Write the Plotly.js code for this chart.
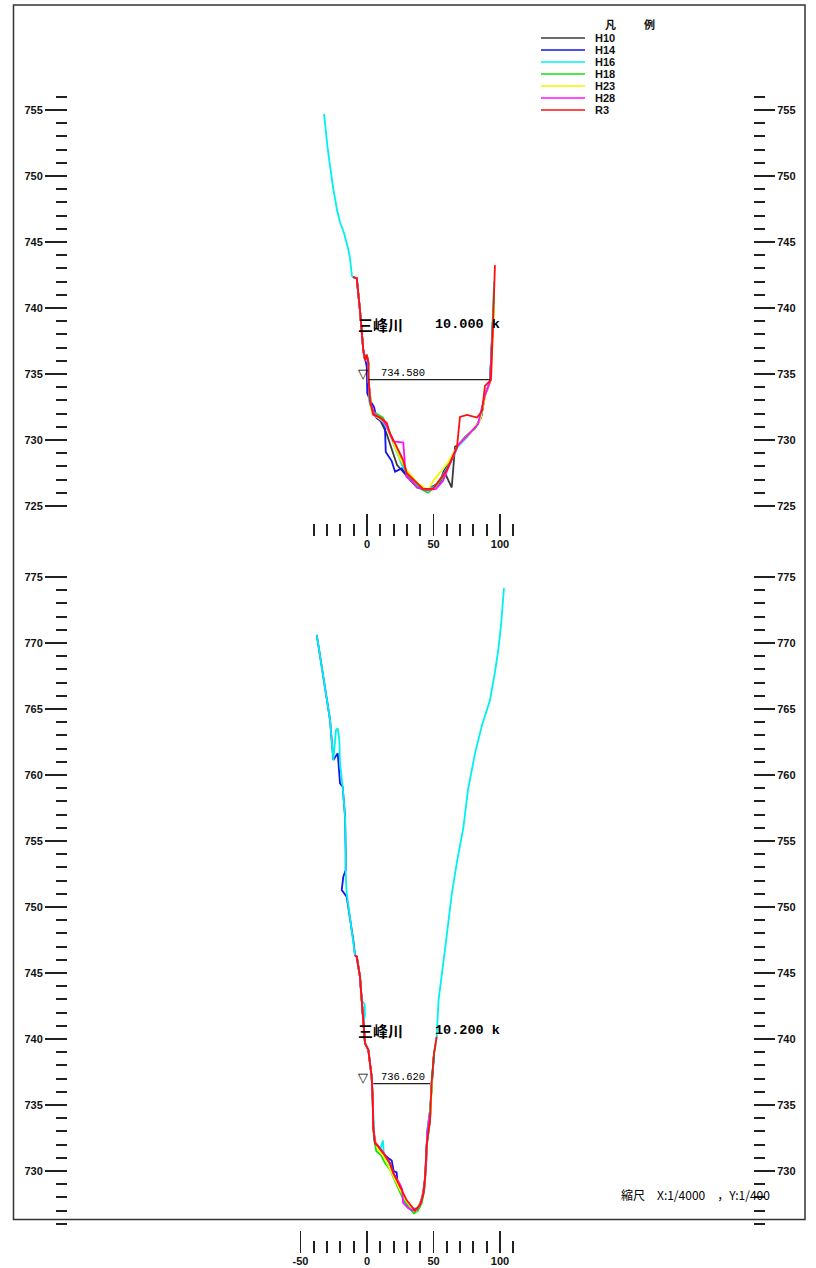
<!DOCTYPE html>
<html><head><meta charset="utf-8">
<script src="https://cdn.plot.ly/plotly-3.0.1.min.js"></script>
<style>html,body{margin:0;padding:0;background:#fff}</style>
</head><body><div id="chart" style="width:816px;height:1268px"></div>
<script>
// ---------------- data ----------------
const seriesNames  = ['H10','H14','H16','H18','H23','H28','R3'];
const seriesColors = ['#3a3a3a','#1414f0','#00f0f0','#10e010','#f5f500','#ff10ff','#ff1010'];

// Section 1 : 10.000 k
const sec1Title = '10.000 k';
const sec1WL = 734.580;
const sec1WLx = [1.0, 92.5];
const sec1CyanUpX = [-32.3,-31.2,-29.7,-28.2,-26.7,-25.2,-23.8,-23.1,-22.6,-20.3,-17.3,-14.3,-12.8,-12.0,-11.3];
const sec1CyanUpY = [754.70,753.56,752.20,751.06,749.92,748.94,748.18,747.80,747.42,746.52,745.68,744.55,743.79,743.03,742.42];
const sec1BankX = [-10.5,-7.7,-5.3,-2.8,-1.5,-0.2,1.0,1.0,1.7];
const sec1BankY = [742.35,742.25,739.85,736.8,736.05,736.45,735.9,734.8,733.9];
const sec1H10X = [4.0,9.8,14.3,22.6,32.3,37.6,45.1,49.6,54.9,58.6,63.7,66.2,68.4,73.7,81.2,85.7,88.7,92.5,94.7];
const sec1H10Y = [732.0,731.5,730.6,728.1,727.0,726.4,726.2,726.4,726.8,727.5,726.4,729.5,729.6,730.2,730.9,731.7,733.4,734.4,739.1];
const sec1H14X = [-10.5,-7.7,-5.3,-2.8,-0.2,0.2,2.3,5.3,7.3,11.0,13.5,14.1,18.6,21.1,26.1,32.3,37.6,45.1,49.6,54.9,57.5,59.9,62.4,68.4,73.7,81.2,85.7,88.7,92.5,94.7];
const sec1H14Y = [742.35,742.25,739.85,736.8,735.56,733.54,733.0,732.5,731.65,731.4,731.0,729.1,728.4,727.6,727.85,727.0,726.5,726.2,726.5,726.8,727.6,728.0,728.3,729.6,730.2,730.9,731.7,733.4,734.4,739.1];
const sec1H16X = [1.5,4.5,11.3,16.5,21.8,26.3,32.3,37.6,45.9,52.6,57.9,62.4,68.4,75.9,83.5,88.7,92.5,94.7,95.5];
const sec1H16Y = [733.0,731.97,731.5,730.6,729.3,728.1,727.1,726.6,726.2,726.6,727.5,728.2,729.5,730.3,731.2,733.4,734.4,739.0,742.0];
const sec1H18X = [2.3,5.3,12.0,15.8,21.1,26.3,32.3,38.3,45.9,51.9,56.4,62.4,68.4,73.7,81.2,85.7,88.7,92.5,94.7,95.5];
const sec1H18Y = [732.7,732.1,731.7,730.9,729.6,728.3,727.1,726.4,726.0,726.5,727.1,728.3,729.6,730.2,730.9,731.7,733.4,734.4,739.1,741.4];
const sec1H23X = [3.8,13.5,18.8,24.8,30.8,38.3,45.9,50.5,55.5,60.9,68.4,77.4,85.0,89.5,93.2,95.5];
const sec1H23Y = [732.0,731.3,730.0,728.6,727.6,726.7,726.2,727.0,727.6,728.3,729.6,730.5,731.5,733.6,734.5,740.0];
const sec1H28X = [2.3,5.3,12.0,15.0,19.8,27.3,28.6,29.8,33.8,37.6,45.1,51.9,57.1,62.4,68.4,75.2,83.5,88.7,92.5,94.7];
const sec1H28Y = [732.9,732.0,731.5,731.0,729.9,729.8,728.0,727.2,726.9,726.4,726.2,726.3,726.9,728.2,729.6,730.3,731.2,733.4,734.4,738.8];
const sec1R3X = [2.3,4.7,9.8,14.8,17.3,22.3,27.1,29.8,34.6,42.1,49.6,54.9,59.9,63.9,67.7,69.9,75.2,82.7,86.5,88.7,91.0,93.2,94.7,96.2];
const sec1R3Y = [733.0,731.9,731.7,731.3,730.5,729.5,728.5,727.5,727.0,726.3,726.3,727.0,727.7,728.6,729.5,731.75,731.9,731.7,732.2,734.1,734.3,734.55,738.55,743.25];

// Section 2 : 10.200 k
const sec2Title = '10.200 k';
const sec2WL = 736.620;
const sec2WLx = [4.7, 47.4];
const sec2CyanUpX = [-37.8,-35.3,-32.9,-30.1,-27.8,-26.3,-25.3,-23.3,-22.0,-20.8,-20.8,-20.3,-18.3,-16.5,-16.0,-16.0,-15.3,-12.8,-10.3];
const sec2CyanUpY = [770.61,769.09,767.42,765.68,764.17,762.65,761.14,763.41,763.54,762.65,761.36,760.89,759.11,756.84,754.07,752.55,751.04,749.27,747.50];
const sec2BlueUpX = [-37.8,-35.3,-32.9,-30.1,-27.8,-26.3,-25.3,-22.0,-20.3,-18.3,-16.5,-16.0,-16.0,-17.8,-19.0,-15.3,-12.8,-10.3];
const sec2BlueUpY = [770.61,769.09,767.42,765.68,764.17,762.65,761.14,761.64,759.37,759.11,756.84,754.07,752.80,752.30,751.29,750.78,749.27,747.50];
const sec2BankX = [-9.0,-7.7,-5.3,-4.0,-3.0,-1.5,1.0,3.5,4.3,4.7];
const sec2BankY = [746.36,746.23,744.72,742.95,741.44,739.67,739.17,737.14,735.38,733.36];
const sec2CyanBankX = [-9.0,-7.7,-5.3,-4.0,-1.7,-1.6,-2.8,-1.5,1.0,3.5,4.3,4.7];
const sec2CyanBankY = [746.36,746.23,744.72,742.95,742.6,741.7,741.3,739.67,739.17,737.14,735.38,733.36];
const sec2H10X = [6.0,8.5,12.3,17.3,20.3,24.8,29.8,35.0,38.3,41.3,43.6,44.9,47.4,48.6,50.4];
const sec2H10Y = [732.2,731.9,731.4,730.6,729.7,728.7,727.7,727.1,727.2,727.9,729.3,731.97,733.86,736.64,738.9];
const sec2H14X = [6.0,8.5,12.3,17.0,18.6,20.0,22.3,23.0,26.3,30.1,33.8,37.0,40.0,42.8,44.4,45.3,47.4,48.6,50.4];
const sec2H14Y = [732.1,731.8,731.3,730.9,730.8,730.0,729.9,729.0,728.3,727.6,727.2,727.1,727.5,728.5,730.5,733.0,734.6,736.6,738.9];
const sec2H16X = [5.6,7.0,9.8,12.0,12.6,15.8,19.5,23.3,27.8,32.3,36.1,39.8,42.8,44.4,45.3,47.4,48.6,50.4,52.4,
                  53.8,58.6,63.7,67.7,72.4,75.9,81.2,86.5,92.5,96.2,98.7,100.8,102.5,103.0];
const sec2H16Y = [732.5,731.9,731.6,732.3,731.3,730.7,729.9,729.0,728.0,727.3,727.0,727.4,728.4,730.5,733.0,734.6,736.6,738.9,740.17,
                  742.95,746.73,750.96,753.45,755.98,758.86,761.64,763.79,765.68,767.80,769.47,771.36,773.26,774.17];
const sec2H18X = [5.5,7.0,10.5,13.5,17.3,20.6,24.8,28.6,32.3,35.3,38.3,41.3,43.6,44.9,47.4,48.6,50.4,51.6];
const sec2H18Y = [732.3,731.5,731.2,730.6,730.1,729.3,728.4,727.6,727.1,726.8,727.0,727.6,729.0,731.9,733.9,736.6,738.9,739.6];
const sec2H23X = [6.0,8.3,12.0,15.8,19.8,24.8,29.0,33.8,36.8,40.6,43.0,44.4,45.3,47.8,49.0];
const sec2H23Y = [732.4,731.6,731.2,730.4,729.6,728.6,727.8,727.2,727.0,727.7,728.7,730.5,732.5,734.5,737.0];
const sec2H28X = [6.0,8.5,12.3,17.3,20.0,24.8,26.5,27.1,30.8,34.6,37.6,40.6,43.0,44.4,45.3,47.4];
const sec2H28Y = [732.2,731.9,731.4,730.6,729.8,729.0,728.6,727.6,727.2,727.0,727.1,727.6,728.6,730.5,732.8,734.4];
const sec2R3X = [6.0,8.5,12.3,17.3,19.8,24.8,29.8,36.1,39.8,42.3,43.6,44.9,47.4,48.6,50.4,52.4];
const sec2R3Y = [732.10,731.84,731.34,730.58,729.83,728.81,727.80,726.99,727.42,728.18,729.44,731.97,733.86,736.64,738.94,740.17];

// ticks
const xMajor1 = [0,50,100];
const xMinor1 = [-40,-30,-20,-10,10,20,30,40,60,70,80,90,110];
const xMajor2 = [-50,0,50,100];
const xMinor2 = [-40,-30,-20,-10,10,20,30,40,60,70,80,90,110];
const yMajor1 = [725,730,735,740,745,750,755];
const yMinor1 = [726,727,728,729,731,732,733,734,736,737,738,739,741,742,743,744,746,747,748,749,751,752,753,754,756];
const yMajor2 = [730,735,740,745,750,755,760,765,770,775];
const yMinor2 = [726,727,728,729,731,732,733,734,736,737,738,739,741,742,743,744,746,747,748,749,751,752,753,754,756,757,758,759,761,762,763,764,766,767,768,769,771,772,773,774];
const scaleText = '縮尺　X:1/4000　，Y:1/400';
const riverName = '三峰川';

// ---------------- build ----------------
const W = 816, H = 1268;
const PX = v => v / W, PY = v => 1 - v / H;
const xpx = 1.33, ypx = 13.2;           // pixels per metre
const x0px = 367;                        // pixel of x = 0
const xRange = [-x0px / xpx, (W - x0px) / xpx];
const yRange1 = [755 - (H - 110) / ypx, 755 + 110 / ypx];
const yRange2 = [775 - (H - 577) / ypx, 775 + 577 / ypx];

const sec1 = [
  [sec1BankX.concat(sec1H10X), sec1BankY.concat(sec1H10Y)],
  [sec1H14X, sec1H14Y],
  [sec1CyanUpX.concat(sec1BankX, sec1H16X), sec1CyanUpY.concat(sec1BankY, sec1H16Y)],
  [sec1BankX.concat(sec1H18X), sec1BankY.concat(sec1H18Y)],
  [sec1BankX.concat(sec1H23X), sec1BankY.concat(sec1H23Y)],
  [sec1BankX.concat(sec1H28X), sec1BankY.concat(sec1H28Y)],
  [sec1BankX.concat(sec1R3X), sec1BankY.concat(sec1R3Y)]
];
const sec2 = [
  [sec2BankX.concat(sec2H10X), sec2BankY.concat(sec2H10Y)],
  [sec2BlueUpX.concat(sec2BankX, sec2H14X), sec2BlueUpY.concat(sec2BankY, sec2H14Y)],
  [sec2CyanUpX.concat(sec2CyanBankX, sec2H16X), sec2CyanUpY.concat(sec2CyanBankY, sec2H16Y)],
  [sec2BankX.concat(sec2H18X), sec2BankY.concat(sec2H18Y)],
  [sec2BankX.concat(sec2H23X), sec2BankY.concat(sec2H23Y)],
  [sec2BankX.concat(sec2H28X), sec2BankY.concat(sec2H28Y)],
  [sec2BankX.concat(sec2R3X), sec2BankY.concat(sec2R3Y)]
];

const traces = [];
[[sec1,'x','y'],[sec2,'x2','y2']].forEach(([sec,xa,ya]) => {
  sec.forEach((s,i) => traces.push({
    type:'scatter', mode:'lines', x:s[0], y:s[1], xaxis:xa, yaxis:ya,
    name:seriesNames[i], line:{color:seriesColors[i], width:1.8},
    showlegend:false, hoverinfo:'skip'
  }));
});
traces.push({type:'scatter',mode:'lines',x:sec1WLx,y:[sec1WL,sec1WL],xaxis:'x',yaxis:'y3',
  line:{color:'#222',width:1.3},showlegend:false,hoverinfo:'skip'});
traces.push({type:'scatter',mode:'lines',x:sec2WLx,y:[sec2WL,sec2WL],xaxis:'x2',yaxis:'y4',
  line:{color:'#222',width:1.3},showlegend:false,hoverinfo:'skip'});

const tickFont = {family:'Liberation Sans Narrow, Arial Narrow, Liberation Sans, Arial, sans-serif', size:11, color:'#111', weight:'bold'};
const tc = '#222';
function xAxis(pos, major, minor){
  return {domain:[0,1], range:xRange, anchor:'free', position:pos, showgrid:false, zeroline:false,
    showline:false, ticks:'inside', ticklen:22, tickwidth:1.5, tickcolor:tc,
    tickmode:'array', tickvals:major, ticktext:major.map(String), tickfont:tickFont, automargin:false,
    minor:{tickmode:'array', tickvals:minor, ticks:'inside', ticklen:12, tickwidth:2, tickcolor:tc, showgrid:false},
    fixedrange:true};
}
function yAxis(range, side, pos, major, minor, overlay){
  const a = {domain:[0,1], range:range, anchor:'free', position:pos, side:side, showgrid:false, zeroline:false,
    showline:false, ticks:'outside', ticklen:22, tickwidth:2, tickcolor:tc,
    tickmode:'array', tickvals:major, ticktext:major.map(String), tickfont:tickFont, automargin:false,
    minor:{tickmode:'array', tickvals:minor, ticks:'outside', ticklen:11, tickwidth:2, tickcolor:tc, showgrid:false},
    fixedrange:true};
  if (overlay) a.overlaying = overlay;
  return a;
}

const annotations = [];
const shapes = [];
// frame
shapes.push({type:'rect', xref:'paper', yref:'paper', x0:PX(13.5), x1:PX(805), y0:PY(1219.5), y1:PY(5),
  line:{color:'#333', width:1.5}});
// legend
annotations.push({xref:'paper',yref:'paper',x:PX(610),y:PY(24),text:'凡',showarrow:false,
  font:{family:'Noto Sans CJK JP',size:11,color:'#111',weight:'bold'},xanchor:'center',yanchor:'middle'});
annotations.push({xref:'paper',yref:'paper',x:PX(649),y:PY(24),text:'例',showarrow:false,
  font:{family:'Noto Sans CJK JP',size:11,color:'#111',weight:'bold'},xanchor:'center',yanchor:'middle'});
seriesNames.forEach((n,i) => {
  const yy = 38 + i*12;
  shapes.push({type:'line', xref:'paper', yref:'paper', x0:PX(541), x1:PX(585), y0:PY(yy), y1:PY(yy),
    line:{color:seriesColors[i], width:1.5}});
  annotations.push({xref:'paper',yref:'paper',x:PX(593),y:PY(yy),text:'<b>'+n+'</b>',showarrow:false,
    font:{family:'Liberation Sans Narrow, Liberation Sans, Arial',size:11,color:'#111'},xanchor:'left',yanchor:'middle'});
});
// section titles
[[325, sec1Title],[1030, sec2Title]].forEach(([yy,t]) => {
  annotations.push({xref:'paper',yref:'paper',x:PX(356),y:PY(yy),text:riverName,showarrow:false,
    font:{family:'Noto Sans CJK JP',size:15,color:'#000',weight:'bold'},xanchor:'left',yanchor:'middle'});
  annotations.push({xref:'paper',yref:'paper',x:PX(433),y:PY(yy),text:t,showarrow:false,
    font:{family:'Liberation Mono, DejaVu Sans Mono, monospace',size:13.5,color:'#000',weight:'bold'},xanchor:'left',yanchor:'middle'});
});
// water levels
[[sec1WL, sec1WLx,'x','y3'],[sec2WL, sec2WLx,'x2','y4']].forEach(([wl,xs,xa,ya]) => {
  annotations.push({xref:xa,yref:ya,x:-3,y:wl,text:'▽',showarrow:false,
    font:{family:'DejaVu Sans',size:13,color:'#000'},xanchor:'center',yanchor:'bottom',yshift:-3});
  annotations.push({xref:xa,yref:ya,x:27,y:wl,text:wl.toFixed(3),showarrow:false,
    font:{family:'Liberation Mono, DejaVu Sans Mono, monospace',size:10.5,color:'#000'},xanchor:'center',yanchor:'bottom',yshift:-1});
});
// scale
annotations.push({xref:'paper',yref:'paper',x:PX(619),y:PY(1194),text:scaleText,showarrow:false,
  font:{family:'Noto Sans CJK JP',size:12,color:'#000'},xanchor:'left',yanchor:'middle'});

const layout = {
  width:W, height:H, margin:{l:0,r:0,t:0,b:0}, paper_bgcolor:'#fff', plot_bgcolor:'rgba(0,0,0,0)',
  showlegend:false,
  xaxis: xAxis(PY(536), xMajor1, xMinor1),
  xaxis2: xAxis(PY(1253), xMajor2, xMinor2),
  yaxis: yAxis(yRange1,'left',PX(67),yMajor1,yMinor1),
  yaxis3: yAxis(yRange1,'right',PX(753),yMajor1,yMinor1,'y'),
  yaxis2: yAxis(yRange2,'left',PX(67),yMajor2,yMinor2),
  yaxis4: yAxis(yRange2,'right',PX(753),yMajor2,yMinor2,'y2'),
  shapes:shapes, annotations:annotations
};
layout.yaxis3.ticklen = 21; layout.yaxis4.ticklen = 21;
Plotly.newPlot('chart', traces, layout, {displayModeBar:false, staticPlot:true});
</script></body></html>
